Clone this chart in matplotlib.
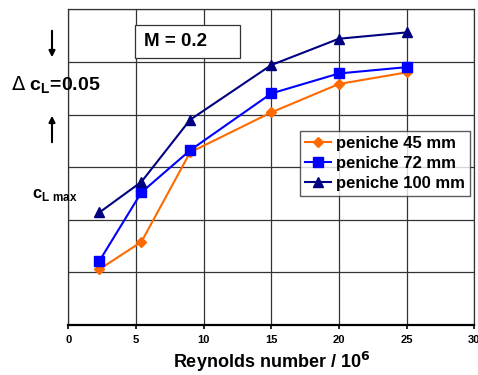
import numpy as np
import matplotlib.pyplot as plt
from matplotlib.patches import FancyArrowPatch, Rectangle

plt.rcParams['font.family'] = ['Liberation Sans', 'DejaVu Sans']

# Reynolds number / 10^6
reynolds = [2.3, 5.4, 9.0, 15.0, 20.0, 25.0]

# c_L max (relative, one grid step = 0.05)
cl_45 = [0.053, 0.079, 0.164, 0.202, 0.229, 0.240]
cl_72 = [0.061, 0.126, 0.166, 0.220, 0.239, 0.245]
cl_100 = [0.107, 0.136, 0.195, 0.247, 0.272, 0.278]

labels = ["peniche 45 mm", "peniche 72 mm", "peniche 100 mm"]
xticks = [0, 5, 10, 15, 20, 25, 30]

fig = plt.figure(figsize=(4.78, 3.75), dpi=100)
ax = fig.add_axes([0.143, 0.1333, 0.849, 0.842])

ax.plot(reynolds, cl_45, color="#ff6a00", marker="D", markersize=5.5, lw=1.5, label=labels[0])
ax.plot(reynolds, cl_72, color="#0000ff", marker="s", markersize=7, lw=1.5, label=labels[1])
ax.plot(reynolds, cl_100, color="#000080", marker="^", markersize=7, lw=1.5, label=labels[2])

ax.set_xlim(0, 30)
ax.set_ylim(0, 0.30)
ax.set_xticks(xticks)
ax.set_xticklabels([str(t) for t in xticks], fontsize=8, fontweight="bold")
ax.set_yticks(np.arange(0, 0.31, 0.05))
ax.tick_params(axis="y", length=0, labelleft=False)
ax.tick_params(axis="x", length=3, width=1.2, direction="out", pad=4)
ax.grid(True, color="#333333", lw=0.9)
ax.set_axisbelow(True)
for s in ["top", "right", "left"]:
    ax.spines[s].set_color("#333333")
    ax.spines[s].set_linewidth(0.9)
ax.spines["bottom"].set_linewidth(1.6)

ax.set_xlabel("Reynolds number / 10$^{\\mathbf{6}}$", fontsize=13, fontweight="bold", labelpad=4)

leg = ax.legend(loc="lower right", bbox_to_anchor=(0.99, 0.41),
                prop={"weight": "bold", "size": 12}, frameon=True, fancybox=False,
                edgecolor="#333333", handlelength=1.6, borderpad=0.3, labelspacing=0.3,
                handletextpad=0.3, borderaxespad=0)
leg.get_frame().set_linewidth(1.0)

# M = 0.2 box
ax.add_patch(Rectangle((0.164, 0.846), 0.259, 0.104, transform=ax.transAxes,
                       fc="white", ec="#333333", lw=0.9, zorder=5))
ax.text(0.187, 0.898, "M = 0.2", transform=ax.transAxes, fontsize=13.5, fontweight="bold",
        ha="left", va="center", zorder=6)

fig.text(0.022, 1 - 85 / 375, "$\\Delta$ c$_\\mathregular{L}$=0.05", fontsize=14, fontweight="bold",
         ha="left", va="center")
fig.text(0.066, 1 - 195 / 375, "c$_\\mathregular{L\\ max}$", fontsize=12, fontweight="bold",
         ha="left", va="center")

fig.patches.append(FancyArrowPatch(
    (52 / 478, 1 - 28 / 375), (52 / 478, 1 - 60 / 375), transform=fig.transFigure,
    arrowstyle="-|>", mutation_scale=9, color="black", lw=1.5))
fig.patches.append(FancyArrowPatch(
    (52 / 478, 1 - 145 / 375), (52 / 478, 1 - 113 / 375), transform=fig.transFigure,
    arrowstyle="-|>", mutation_scale=9, color="black", lw=1.5))

plt.savefig("out.png", dpi=100)
